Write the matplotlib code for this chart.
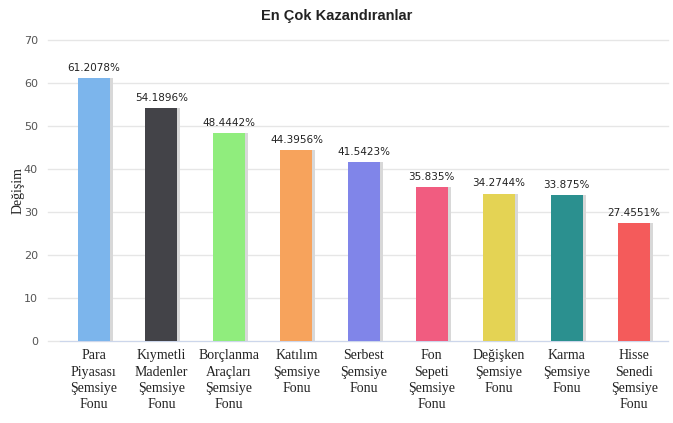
import matplotlib
matplotlib.use("Agg")
import matplotlib.pyplot as plt
import numpy as np

categories = ["Para\nPiyasası\nŞemsiye\nFonu", "Kıymetli\nMadenler\nŞemsiye\nFonu",
              "Borçlanma\nAraçları\nŞemsiye\nFonu", "Katılım\nŞemsiye\nFonu",
              "Serbest\nŞemsiye\nFonu", "Fon\nSepeti\nŞemsiye\nFonu",
              "Değişken\nŞemsiye\nFonu", "Karma\nŞemsiye\nFonu",
              "Hisse\nSenedi\nŞemsiye\nFonu"]
values = [61.2078, 54.1896, 48.4442, 44.3956, 41.5423, 35.835, 34.2744, 33.875, 27.4551]
value_labels = ["61.2078%", "54.1896%", "48.4442%", "44.3956%", "41.5423%",
                "35.835%", "34.2744%", "33.875%", "27.4551%"]
colors = ["#7cb5ec", "#434348", "#90ed7d", "#f7a35c", "#8085e9",
          "#f15c80", "#e4d354", "#2b908f", "#f45b5b"]
yticks = [0, 10, 20, 30, 40, 50, 60, 70]

W, H = 673, 423
fig = plt.figure(figsize=(W / 100, H / 100), dpi=100)
ax = fig.add_axes([60 / W, 1 - 341 / H, (668 - 60) / W, (341 - 40) / H])

x = np.arange(len(values))
bw = 32 / 67.5
# shadow
ax.bar(x + 0.045, values, width=bw, color="#d8d8d8", zorder=2)
ax.bar(x, values, width=bw, color=colors, zorder=3)
for xi, v, lab in zip(x, values, value_labels):
    ax.text(xi, v + 1.2, lab, ha="center", va="bottom", fontsize=7.5,
            color="#222222", family="DejaVu Sans", zorder=4)

ax.set_xlim(-0.5, len(values) - 0.5)
ax.set_ylim(0, 70)
ax.set_yticks(yticks)
ax.set_yticklabels([str(t) for t in yticks], fontsize=8, color="#555555")
for t in yticks:
    ax.axhline(t, xmin=-12 / 608, xmax=1, color="#e6e6e6", linewidth=1,
               zorder=0, clip_on=False)
for s in ax.spines.values():
    s.set_visible(False)
ax.spines["bottom"].set_visible(True)
ax.spines["bottom"].set_color("#ccd6eb")
ax.tick_params(axis="y", length=0, pad=16)
ax.tick_params(axis="x", length=0, pad=6)
ax.set_xticks(x)
ax.set_xticklabels(categories, fontsize=10, family="Liberation Serif",
                   color="#222222", linespacing=1.32)
ax.set_ylabel("Değişim", fontsize=10, family="Liberation Serif", color="#222222")
ax.yaxis.set_label_coords(-(60 - 25) / 608, 0.5)
fig.text(0.5, 1 - 16 / H, "En Çok Kazandıranlar", ha="center", va="center",
         fontsize=10.5, fontweight="bold", family="Liberation Sans", color="#222222")
fig.savefig("out.png", dpi=100)
